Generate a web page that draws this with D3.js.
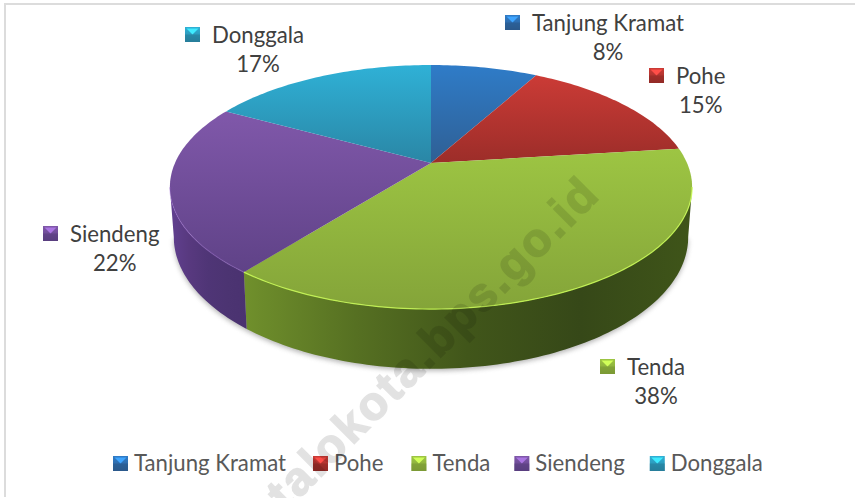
<!DOCTYPE html>
<html>
<head>
<meta charset="utf-8">
<script src="https://cdn.jsdelivr.net/npm/d3@7"></script>
<style>
  html, body { margin: 0; padding: 0; background: #fff; }
  svg { display: block; }
  text { font-family: Lato, "Open Sans", sans-serif; }
</style>
</head>
<body>
<div id="chart"></div>
<script>
// chart data
let categories = ["Tanjung Kramat", "Pohe", "Tenda", "Siendeng", "Donggala"];
let shares = [8, 15, 37.6, 22.4, 17];

// colours per slice: top face light, top face dark
let topLight = ["#2f7cc8", "#cb3b36", "#9dc543", "#8058aa", "#2fb1d6"];
let topDark = ["#2f5f94", "#9c2d29", "#84a439", "#5f4287", "#2a86a5"];
let rimOpacity = [0, 0, 0.85, 0.35, 0];
let sideStops = {
  "Tenda": ["#70902c", "#567022", "#41561a", "#364818", "#3f5519"],
  "Siendeng": ["#614090", "#58397f", "#4f3576", "#4c3472", "#4a3270"]
};

// where the data labels and their keys sit (marker left, marker top)
let labelPos = [[505, 15], [649, 68], [600, 359], [43, 226], [185, 27]];
// space between a legend entry and the next one
let legendGaps = [27, 28, 24, 25, 0];

const width = 855, height = 498;

let svg = d3.select("#chart").append("svg")
    .attr("width", width)
    .attr("height", height);
let defs = svg.append("defs");

// frame, only top and left are drawn in the picture
svg.append("path")
    .attr("d", "M5,497V4H855")
    .attr("fill", "none")
    .attr("stroke", "#dcdcdc")
    .attr("stroke-width", 2);

// perspective projection of the pie disc
const cx = 431, cy = 163, rx = 256, ry = 117.3, persp = 0.197, depth = 48, shrink = 0.985;
let project = (a, low) => {
    let u = Math.sin(a), v = Math.cos(a), w = 1 + persp * v;
    let x = rx * u / w, y = -ry * v / w;
    return low ? [cx + x * shrink, cy + y + depth / w] : [cx + x, cy + y];
};

let arcs = d3.pie().sort(null).value(d => d)(shares);
let line = d3.line();

let arcPoints = (a0, a1, low) => {
    let n = Math.max(2, Math.ceil((a1 - a0) / 0.02));
    return d3.range(n + 1).map(i => project(a0 + (a1 - a0) * i / n, low));
};

// gradients for top faces and markers
categories.forEach((c, i) => {
    let g = defs.append("linearGradient").attr("id", `top${i}`)
        .attr("x1", 0).attr("y1", 0).attr("x2", 0).attr("y2", 1);
    g.append("stop").attr("offset", 0).attr("stop-color", topLight[i]);
    g.append("stop").attr("offset", 1).attr("stop-color", topDark[i]);
});
Object.keys(sideStops).forEach(name => {
    let g = defs.append("linearGradient").attr("id", `side${categories.indexOf(name)}`)
        .attr("x1", 0).attr("y1", 0).attr("x2", 1).attr("y2", 0);
    sideStops[name].forEach((col, j, all) => {
        g.append("stop").attr("offset", j / (all.length - 1)).attr("stop-color", col);
    });
});

let blur = defs.append("filter").attr("id", "soft")
    .attr("x", "-10%").attr("y", "-10%").attr("width", "120%").attr("height", "130%");
blur.append("feGaussianBlur").attr("stdDeviation", 2.5);

// the side is only visible on the front part of the rim
const a0Side = Math.acos(-persp), a1Side = 2 * Math.PI - a0Side;

// shadow below the disc
svg.append("path")
    .attr("d", line(arcPoints(a0Side, a1Side, true)) + "Z")
    .attr("transform", "translate(0,2)")
    .attr("fill", "#777")
    .attr("opacity", 0.55)
    .attr("filter", "url(#soft)");

// sides
arcs.forEach((d, i) => {
    let a0 = Math.max(d.startAngle, a0Side), a1 = Math.min(d.endAngle, a1Side);
    if (a1 <= a0) return;
    let pts = arcPoints(a0, a1, false).concat(arcPoints(a0, a1, true).reverse());
    svg.append("path")
        .attr("d", line(pts) + "Z")
        .attr("fill", `url(#side${i})`);
});

// top faces
arcs.forEach((d, i) => {
    let pts = [[cx, cy]].concat(arcPoints(d.startAngle, d.endAngle, false));
    svg.append("path")
        .attr("d", line(pts) + "Z")
        .attr("fill", `url(#top${i})`);
});

// light rim along the front edge
arcs.forEach((d, i) => {
    let a0 = Math.max(d.startAngle, a0Side), a1 = Math.min(d.endAngle, a1Side);
    if (a1 <= a0) return;
    svg.append("path")
        .attr("d", line(arcPoints(a0, a1, false)))
        .attr("fill", "none")
        .attr("stroke", d3.color(topLight[i]).brighter(0.7))
        .attr("stroke-width", 1.2)
        .attr("opacity", rimOpacity[i]);
});

// bevelled square used by labels and legend
function marker(parent, i, x, y) {
    const s = 15;
    let g = parent.append("g").attr("transform", `translate(${x},${y})`);
    g.append("rect").attr("width", s).attr("height", s)
        .attr("fill", `url(#top${i})`);
    g.append("path")
        .attr("d", line([[1.5, 1.5], [s - 1.5, 1.5], [s / 2, s / 2]]) + "Z")
        .attr("fill", d3.color(topLight[i]).brighter(0.8));
    g.append("rect").attr("y", s / 2).attr("width", s).attr("height", s / 2)
        .attr("fill", d3.color(topDark[i]).darker(0.4)).attr("opacity", 0.45);
}

// data labels
const labelSize = 22.2;
categories.forEach((c, i) => {
    let [mx, my] = labelPos[i];
    marker(svg, i, mx, my);
    let name = svg.append("text")
        .attr("x", mx + 27)
        .attr("y", my + 16)
        .attr("font-size", labelSize)
        .attr("fill", "#404040")
        .text(c);
    let w = name.node().getComputedTextLength();
    svg.append("text")
        .attr("x", mx + 27 + w / 2)
        .attr("y", my + 45)
        .attr("text-anchor", "middle")
        .attr("font-size", labelSize)
        .attr("fill", "#404040")
        .text(`${Math.round(shares[i])}%`);
});

// legend, one row centred under the pie
let legend = svg.append("g");
let lx = 113;
categories.forEach((c, i) => {
    marker(legend, i, lx, 456);
    let t = legend.append("text")
        .attr("x", lx + 21)
        .attr("y", 471)
        .attr("font-size", labelSize)
        .attr("fill", "#595959")
        .text(c);
    lx += 21 + t.node().getComputedTextLength() + legendGaps[i];
});

// site watermark across the chart
svg.append("text")
    .attr("transform", "translate(602,196) rotate(-45)")
    .attr("text-anchor", "end")
    .attr("font-size", 47)
    .attr("font-weight", 700)
    .attr("letter-spacing", 2.5)
    .attr("fill", "#000")
    .attr("stroke", "#000")
    .attr("stroke-width", 1.6)
    .attr("opacity", 0.11)
    .style("font-family", "'Liberation Sans', sans-serif")
    .text("talokota.bps.go.id");
</script>
</body>
</html>
